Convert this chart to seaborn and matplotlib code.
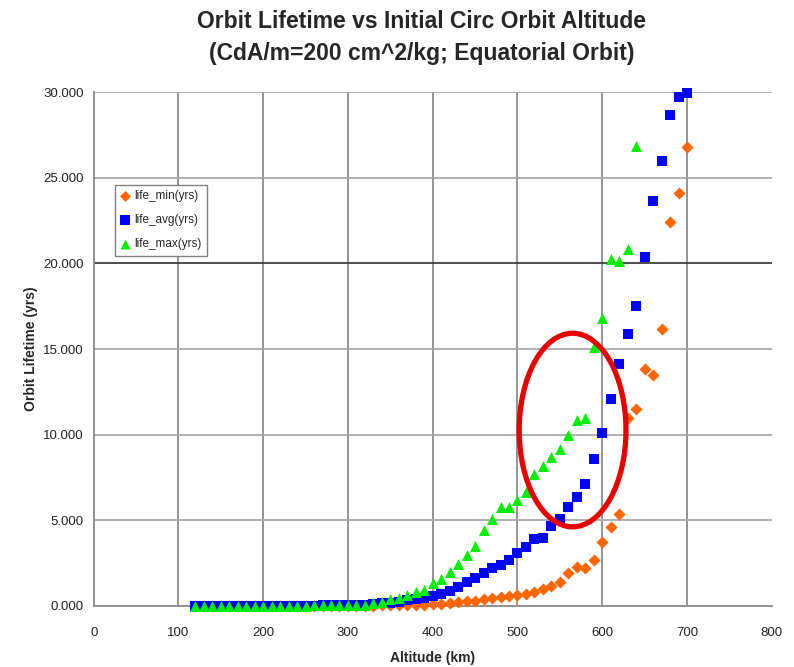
import numpy as np
import pandas as pd
import matplotlib
matplotlib.use("Agg")
import matplotlib.pyplot as plt
from matplotlib.patches import Ellipse
from matplotlib.ticker import FormatStrFormatter
import seaborn as sns

# Initial circular orbit altitude (km), 10 km steps
altitude = list(range(120, 710, 10))

life_min = [0.000, 0.001, 0.001, 0.002, 0.002, 0.003, 0.003, 0.004, 0.005, 0.005,
            0.006, 0.007, 0.008, 0.009, 0.010, 0.011, 0.012, 0.014, 0.016, 0.018,
            0.021, 0.025, 0.030, 0.035, 0.040, 0.050, 0.060, 0.080, 0.100, 0.120,
            0.160, 0.240, 0.270, 0.290, 0.420, 0.450, 0.540, 0.580, 0.640, 0.700,
            0.840, 0.990, 1.190, 1.380, 1.930, 2.300, 2.200, 2.690, 3.720, 4.630,
            5.350, 10.960, 11.480, 13.850, 13.490, 16.170, 22.430, 24.130, 26.810]

life_avg = [0.002, 0.003, 0.004, 0.005, 0.006, 0.007, 0.008, 0.010, 0.011, 0.013,
            0.015, 0.017, 0.020, 0.023, 0.026, 0.030, 0.034, 0.040, 0.045, 0.055,
            0.080, 0.110, 0.150, 0.200, 0.260, 0.320, 0.400, 0.480, 0.580, 0.700,
            0.890, 1.130, 1.420, 1.650, 1.910, 2.240, 2.390, 2.690, 3.080, 3.430,
            3.890, 3.990, 4.690, 5.070, 5.800, 6.380, 7.120, 8.580, 10.080, 12.070,
            14.110, 15.880, 17.530, 20.360, 23.640, 26.000, 28.660, 29.730, 29.930]

# Maximum lifetime runs off the top of the scale beyond 640 km
life_max = [0.004, 0.005, 0.006, 0.007, 0.008, 0.009, 0.010, 0.012, 0.014, 0.016,
            0.018, 0.020, 0.023, 0.026, 0.030, 0.034, 0.038, 0.043, 0.050, 0.055,
            0.080, 0.160, 0.250, 0.390, 0.450, 0.640, 0.840, 0.930, 1.320, 1.600,
            1.980, 2.470, 2.980, 3.500, 4.440, 5.060, 5.800, 5.800, 6.190, 6.670,
            7.700, 8.170, 8.720, 9.190, 9.980, 10.860, 10.990, 15.140, 16.800, 20.260,
            20.140, 20.840, 26.870]

series_names = ["life_min(yrs)", "life_avg(yrs)", "life_max(yrs)"]
x_ticks = [0, 100, 200, 300, 400, 500, 600, 700, 800]
y_ticks = [0, 5, 10, 15, 20, 25, 30]

df = pd.concat([
    pd.DataFrame({"Altitude": altitude, "Lifetime": life_min, "series": series_names[0]}),
    pd.DataFrame({"Altitude": altitude, "Lifetime": life_avg, "series": series_names[1]}),
    pd.DataFrame({"Altitude": altitude[:len(life_max)], "Lifetime": life_max, "series": series_names[2]}),
], ignore_index=True)

sns.set_style("white")
plt.rcParams["font.family"] = ["Liberation Sans", "DejaVu Sans"]

fig = plt.figure(figsize=(7.94, 6.67), dpi=100)
ax = fig.add_axes([0.118, 0.0915, 0.854, 0.7705])

palette = {series_names[0]: "#ff6600", series_names[1]: "#0000ff", series_names[2]: "#00ee00"}
markers = {series_names[0]: "D", series_names[1]: "s", series_names[2]: "^"}
sizes = {series_names[0]: 38, series_names[1]: 55, series_names[2]: 62}

for name in series_names:
    sub = df[df["series"] == name]
    sns.scatterplot(data=sub, x="Altitude", y="Lifetime", color=palette[name],
                    marker=markers[name], s=sizes[name], linewidth=0,
                    label=name, ax=ax, clip_on=False, zorder=3)

ax.set_xlim(0, 800)
ax.set_ylim(0, 30)
ax.set_xticks(x_ticks)
ax.set_yticks(y_ticks)
ax.yaxis.set_major_formatter(FormatStrFormatter("%.3f"))

# Gridlines
for xv in x_ticks[1:-1]:
    ax.axvline(xv, color="#8c8c8c", lw=1.3, zorder=1)
for yv in y_ticks[1:]:
    ax.axhline(yv, color="#a8a8a8" if yv != 20 else "#404040", lw=1.3, zorder=1)

for s in ["top", "right"]:
    ax.spines[s].set_visible(False)
for s in ["left", "bottom"]:
    ax.spines[s].set_color("#888888")
    ax.spines[s].set_linewidth(1.3)

ax.tick_params(axis="both", direction="out", length=4, width=1, color="#888888",
               labelsize=9.5, labelcolor="#222222", pad=3)
ax.tick_params(axis="x", pad=11)

ax.set_xlabel("Altitude (km)", fontsize=10, fontweight="bold", labelpad=9)
ax.set_ylabel("Orbit Lifetime (yrs)", fontsize=10, fontweight="bold", labelpad=4)

fig.text(0.531, 0.968, "Orbit Lifetime vs Initial Circ Orbit Altitude",
         ha="center", va="center", fontsize=16.5, fontweight="bold")
fig.text(0.531, 0.920, "(CdA/m=200 cm^2/kg; Equatorial Orbit)",
         ha="center", va="center", fontsize=16.5, fontweight="bold")

# Highlight of the steep rise between 540 and 600 km
ax.add_patch(Ellipse((565, 10.27), 126, 11.3, fill=False, edgecolor="#e60000",
                     lw=3.8, zorder=4))

leg = ax.legend(loc="upper left", bbox_to_anchor=(0.031, 0.82), fontsize=8.5,
                frameon=True, fancybox=False, edgecolor="#808080", framealpha=1,
                borderpad=0.5, handletextpad=0.35, handlelength=0.8,
                labelspacing=1.0, markerscale=0.9, borderaxespad=0)
leg.get_frame().set_linewidth(1.0)

fig.savefig("out.png", dpi=100)
